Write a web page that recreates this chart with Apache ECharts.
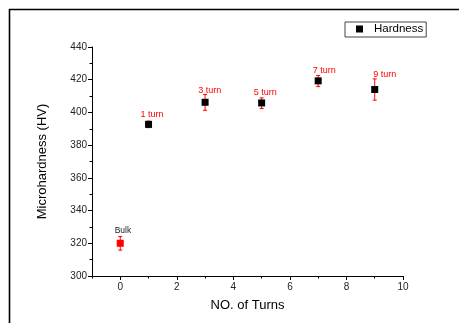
<!DOCTYPE html>
<html>
<head>
<meta charset="utf-8">
<script src="https://cdn.jsdelivr.net/npm/echarts@6/dist/echarts.min.js"></script>
<style>html,body{margin:0;padding:0;background:#fff;}#c{width:459px;height:323px;}</style>
</head>
<body>
<div id="c"></div>
<script>
// ---- data ----
var turns = [0, 1, 3, 5, 7, 9];
var hardness = [320, 392.7, 406.2, 405.8, 419.3, 414];
var errLow = [315.8, 390.7, 401.3, 402.4, 415.8, 407.5];
var errHigh = [324.1, 394.7, 411, 408.9, 422.6, 420.5];
var pointLabels = ['Bulk', '1 turn', '3 turn', '5 turn', '7 turn', '9 turn'];
var xMajorTicks = [0, 2, 4, 6, 8, 10];
var xMinorTicks = [-1, 1, 3, 5, 7, 9];
var seriesName = 'Hardness';

// ---- styles ----
var FONT = 'Liberation Sans, Arial, sans-serif';
var labelOffsets = [[2.7, -3], [3.4, 0], [4.7, -2], [3.5, 0], [6, 0], [10, -5]];
var markerColors = ['#ff0000', '#000', '#000', '#000', '#000', '#000'];
var labelColors = ['#222', '#ff0000', '#ff0000', '#ff0000', '#ff0000', '#ff0000'];
var labelSizes = [8.5, 9, 9, 9, 9, 9];

var chart = echarts.init(document.getElementById('c'), null, {renderer: 'canvas'});

var scatterData = turns.map(function (t, i) {
  return {
    value: [t, hardness[i]],
    itemStyle: {color: markerColors[i], opacity: 1},
    label: {
      show: true, position: 'top', distance: 2,
      formatter: pointLabels[i], color: labelColors[i],
      fontSize: labelSizes[i], fontFamily: FONT,
      offset: labelOffsets[i]
    }
  };
});
var errData = turns.map(function (t, i) { return [t, errLow[i], errHigh[i]]; });

chart.setOption({
  animation: false,
  backgroundColor: '#fff',
  grid: {left: 92, right: 56, top: 47, bottom: 47, containLabel: false},
  legend: {
    data: [seriesName],
    left: 345, top: 22,
    orient: 'vertical',
    itemWidth: 7, itemHeight: 7, itemGap: 0,
    padding: [1, 3, 2, 11],
    borderWidth: 1, borderColor: '#444', borderRadius: 0,
    textStyle: {fontSize: 11.5, fontFamily: FONT, color: '#000', padding: [0, 0, 0, 6]}
  },
  xAxis: [{
    type: 'value', min: -1, max: 10,
    name: 'NO. of Turns', nameLocation: 'middle', nameGap: 23,
    nameTextStyle: {fontSize: 13, fontFamily: FONT, color: '#000'},
    axisLine: {show: true, onZero: false, lineStyle: {color: '#000', width: 1}},
    axisTick: {show: true, inside: false, length: 4, customValues: xMajorTicks, lineStyle: {color: '#000'}},
    axisLabel: {show: true, customValues: xMajorTicks, fontSize: 10, fontFamily: FONT, color: '#222', margin: 6},
    splitLine: {show: false}
  }, {
    type: 'value', min: -1, max: 10, position: 'bottom', gridIndex: 0,
    axisLine: {show: false},
    axisTick: {show: true, inside: false, length: 2.5, customValues: xMinorTicks, lineStyle: {color: '#000'}},
    axisLabel: {show: false},
    splitLine: {show: false}
  }],
  yAxis: {
    type: 'value', min: 300, max: 440, interval: 20,
    name: 'Microhardness (HV)', nameLocation: 'middle', nameGap: 43,
    nameTextStyle: {fontSize: 13, fontFamily: FONT, color: '#000'},
    axisLine: {show: true, onZero: false, lineStyle: {color: '#000', width: 1}},
    axisTick: {show: true, inside: false, length: 4, lineStyle: {color: '#000'}},
    minorTick: {show: true, splitNumber: 2, length: 2.5, lineStyle: {color: '#000'}},
    axisLabel: {fontSize: 10, fontFamily: FONT, color: '#222', margin: 5},
    splitLine: {show: false}
  },
  graphic: [
    {type: 'line', shape: {x1: 9, y1: 9.5, x2: 459, y2: 9.5}, style: {stroke: '#000', lineWidth: 1.6}, silent: true},
    {type: 'line', shape: {x1: 9.5, y1: 9, x2: 9.5, y2: 323}, style: {stroke: '#000', lineWidth: 1.6}, silent: true}
  ],
  series: [{
    type: 'custom',
    name: 'err',
    z: 1,
    data: errData,
    renderItem: function (params, api) {
      var x = api.value(0);
      var lo = api.coord([x, api.value(1)]);
      var hi = api.coord([x, api.value(2)]);
      var c = 2;
      var st = {stroke: '#ff0000', lineWidth: 1};
      return {type: 'group', children: [
        {type: 'line', shape: {x1: lo[0], y1: lo[1], x2: hi[0], y2: hi[1]}, style: st},
        {type: 'line', shape: {x1: lo[0] - c, y1: lo[1], x2: lo[0] + c, y2: lo[1]}, style: st},
        {type: 'line', shape: {x1: hi[0] - c, y1: hi[1], x2: hi[0] + c, y2: hi[1]}, style: st}
      ]};
    }
  }, {
    type: 'scatter',
    name: seriesName,
    z: 3,
    symbol: 'rect',
    symbolSize: 7,
    itemStyle: {color: '#000', opacity: 1},
    data: scatterData
  }]
});
</script>
</body>
</html>
